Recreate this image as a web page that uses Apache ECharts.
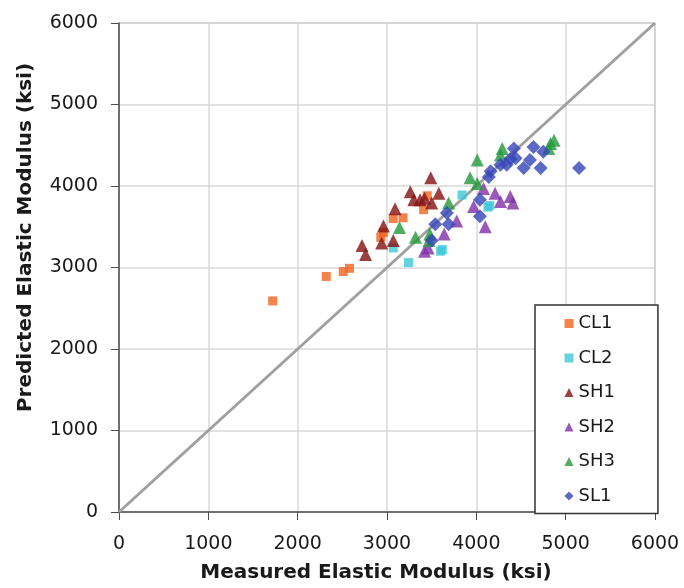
<!DOCTYPE html>
<html>
<head>
<meta charset="utf-8">
<script src="https://cdn.jsdelivr.net/npm/echarts@6/dist/echarts.min.js"></script>
<style>
  html, body { margin: 0; padding: 0; background: #fff; }
  #chart { width: 684px; height: 588px; }
</style>
</head>
<body>
<div id="chart"></div>
<script>
// measured vs predicted elastic modulus (ksi)
var cl1 = [[1720,2590],[2320,2890],[2510,2950],[2580,2990],[2930,3370],[2960,3430],
           [3070,3600],[3180,3610],[3450,3880],[3410,3710]];
var cl2 = [[3070,3240],[3240,3060],[3600,3200],[3620,3220],[3840,3890],[4150,3760],[4130,3740]];
var sh1 = [[3490,4100],[3260,3930],[3580,3910],[3300,3830],[3370,3830],[3500,3790],[3420,3850],
           [3090,3720],[2960,3510],[2940,3300],[3070,3330],[2720,3270],[2760,3160]];
var sh2 = [[3420,3200],[3460,3240],[3640,3410],[3780,3570],[3970,3750],[4100,3500],[4080,3970],
           [4210,3910],[4270,3810],[4380,3870],[4410,3790]];
var sh3 = [[4870,4560],[4830,4520],[4810,4460],[4290,4460],[4270,4380],[4010,4320],[3930,4100],
           [4010,4030],[3690,3790],[3320,3370],[3480,3410],[3140,3490],[3470,3330]];
var sl1 = [[4420,4460],[4640,4480],[4340,4260],[4440,4340],[4600,4320],[4720,4220],[4530,4220],
           [4160,4180],[4140,4110],[4040,3830],[4040,3630],[3670,3670],[3540,3530],[3690,3530],
           [3500,3330],[5150,4220],[4270,4260],[4750,4420],[4380,4330]];
var equality = [[0,0],[6000,6000]];

var names = ['CL1', 'CL2', 'SH1', 'SH2', 'SH3', 'SL1'];

var myChart = echarts.init(document.getElementById('chart'));

function pts(name, data, symbol, size, color) {
    return {
        name: name,
        type: 'scatter',
        data: data,
        symbol: symbol,
        symbolSize: size,
        itemStyle: { color: color },
        z: 3
    };
}

function plain(v) {
    return String(v);
}

var option = {
    backgroundColor: '#fff',
    animation: false,
    textStyle: { fontFamily: 'DejaVu Sans, sans-serif' },
    grid: { left: 119, right: 29, top: 23, bottom: 71, show: true, borderColor: '#8c8c8c', borderWidth: 1 },
    legend: {
        data: names,
        orient: 'vertical',
        left: 535,
        top: 305,
        padding: [9.5, 43, 8.5, 29.5],
        itemGap: 16.5,
        itemWidth: 9,
        itemHeight: 9,
        backgroundColor: '#fff',
        borderColor: '#333',
        borderWidth: 1.5,
        textStyle: { fontSize: 18, color: '#1a1a1a' }
    },
    xAxis: {
        type: 'value',
        min: 0, max: 6000, interval: 1000,
        name: 'Measured Elastic Modulus (ksi)',
        nameLocation: 'middle',
        nameGap: 51,
        nameTextStyle: { fontSize: 20, fontWeight: 'bold', color: '#1a1a1a', padding: [0, 22, 0, 0] },
        axisLine: { onZero: false, lineStyle: { color: '#4d4d4d', width: 1.5 } },
        axisTick: { show: true, length: 8, lineStyle: { color: '#4d4d4d' } },
        axisLabel: { fontSize: 19, color: '#1a1a1a', margin: 23, formatter: plain },
        splitLine: { lineStyle: { color: '#d9d9d9', width: 1.5 } }
    },
    yAxis: {
        type: 'value',
        min: 0, max: 6000, interval: 1000,
        name: 'Predicted Elastic Modulus (ksi)',
        nameLocation: 'middle',
        nameGap: 83,
        nameTextStyle: { fontSize: 20, fontWeight: 'bold', color: '#1a1a1a', padding: [0, 0, 0, 60] },
        axisLine: { onZero: false, lineStyle: { color: '#4d4d4d', width: 1.5 } },
        axisTick: { show: true, length: 8, lineStyle: { color: '#4d4d4d' } },
        axisLabel: { fontSize: 19, color: '#1a1a1a', margin: 21, formatter: plain },
        splitLine: { lineStyle: { color: '#d9d9d9', width: 1.5 } }
    },
    series: [
        {
            name: 'line of equality',
            type: 'line',
            data: equality,
            symbol: 'none',
            lineStyle: { color: '#a0a0a0', width: 3 },
            z: 2,
            silent: true
        },
        pts('CL1', cl1, 'rect', 9, '#f0641e'),
        pts('CL2', cl2, 'rect', 9, '#3cc8d4'),
        pts('SH1', sh1, 'triangle', 13, '#841010'),
        pts('SH2', sh2, 'triangle', 13, '#8030a8'),
        pts('SH3', sh3, 'triangle', 13, '#22993a'),
        pts('SL1', sl1, 'diamond', 14, '#3344b8')
    ]
};

myChart.setOption(option);
</script>
</body>
</html>
